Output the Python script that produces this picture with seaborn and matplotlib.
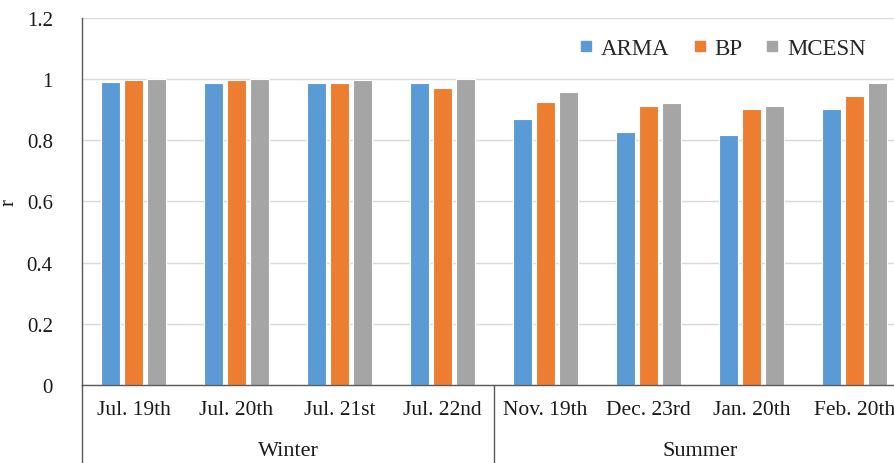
import matplotlib
matplotlib.use("Agg")
import matplotlib.pyplot as plt
from matplotlib.lines import Line2D
import matplotlib.transforms as mtransforms
import seaborn as sns
import pandas as pd

categories = ["Jul. 19th", "Jul. 20th", "Jul. 21st", "Jul. 22nd",
              "Nov. 19th", "Dec. 23rd", "Jan. 20th", "Feb. 20th"]
groups = ["Winter", "Summer"]
group_sizes = [4, 4]
series = ["ARMA", "BP", "MCESN"]
arma = [0.990, 0.986, 0.986, 0.986, 0.868, 0.826, 0.818, 0.903]
bp = [0.996, 0.996, 0.986, 0.970, 0.923, 0.913, 0.903, 0.945]
mcesn = [1.000, 0.999, 0.996, 1.000, 0.956, 0.921, 0.913, 0.987]
yticks = [0, 0.2, 0.4, 0.6, 0.8, 1.0, 1.2]
ytick_labels = ["0", "0.2", "0.4", "0.6", "0.8", "1", "1.2"]
colors = ["#5B9BD5", "#ED7D31", "#A5A5A5"]

rows = []
for s, vals in zip(series, [arma, bp, mcesn]):
    for c, v in zip(categories, vals):
        rows.append({"date": c, "model": s, "r": v})
df = pd.DataFrame(rows)

sns.set_theme(style="white")
plt.rcParams["font.family"] = ["Liberation Serif", "DejaVu Serif"]

fig = plt.figure(figsize=(8.94, 4.64), dpi=100)
ax_left = 82 / 894
ax_bottom = 1 - 386 / 464
ax_hpx = 386 - 18.7
ax_h = ax_hpx / 464
ax_w = 824 / 894
ax = fig.add_axes([ax_left, ax_bottom, ax_w, ax_h])

sns.barplot(data=df, x="date", y="r", hue="model", order=categories,
            hue_order=series, palette=colors, width=0.67, gap=0.2,
            edgecolor="white", linewidth=0.8, ax=ax, legend=False,
            saturation=1)

ax.set_ylim(0, 1.2)
ax.set_xlim(-0.5, len(categories) - 0.5)
ax.set_yticks(yticks)
ax.set_yticklabels(ytick_labels)
ax.yaxis.grid(True, color="#D9D9D9", linewidth=1)
ax.set_axisbelow(True)
ax.tick_params(axis="y", length=0, pad=21, labelsize=15, colors="#1a1a1a")
ax.tick_params(axis="x", length=0, pad=11, labelsize=15.5, colors="#1a1a1a")
for sp in ["top", "right"]:
    ax.spines[sp].set_visible(False)
ax.spines["left"].set_color("#595959")
ax.spines["bottom"].set_color("#595959")
ax.spines["left"].set_linewidth(1)
ax.spines["bottom"].set_linewidth(1)
ax.set_xlabel("")
ax.set_ylabel("r", fontsize=15, color="#1a1a1a")
ax.yaxis.set_label_coords((19 - 82) / 824, 0.5)

# multi-level category axis
trans = mtransforms.blended_transform_factory(ax.transData, ax.transAxes)
ybot = -78 / ax_hpx
edges = [-0.5]
for g in group_sizes:
    edges.append(edges[-1] + g)
for e in edges[:-1]:
    ax.plot([e, e], [0, ybot], transform=trans, color="#595959",
            linewidth=1, clip_on=False)
for g, a, b in zip(groups, edges[:-1], edges[1:]):
    ax.text((a + b) / 2, -66 / ax_hpx, g, transform=trans,
            ha="center", va="center", fontsize=16, color="#1a1a1a")

handles = [Line2D([0], [0], marker="s", linestyle="none", markersize=6.5,
                  markerfacecolor=c, markeredgecolor=c) for c in colors]
fig.legend(handles, series, loc="center", bbox_to_anchor=(0.809, 0.894),
           ncol=3, frameon=False, fontsize=16.5, handletextpad=0.4,
           columnspacing=1.05, handlelength=0.5)

fig.savefig("out.png", dpi=100)
